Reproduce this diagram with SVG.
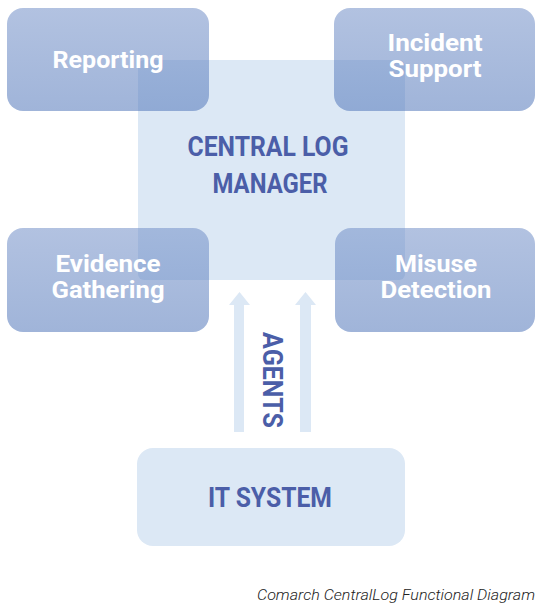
<svg xmlns="http://www.w3.org/2000/svg" width="545" height="607" viewBox="0 0 545 607">
<defs>
<linearGradient id="g" x1="0" y1="0" x2="0" y2="1">
<stop offset="0" stop-color="#7390c8"/>
<stop offset="1" stop-color="#5277ba"/>
</linearGradient>
<style>
.light{fill:#dce8f5}
.box{fill:url(#g);opacity:0.55}
.wt{fill:#ffffff;font-family:Roboto,"Liberation Sans",sans-serif;font-weight:bold;font-size:23px;text-anchor:middle}
.bt{fill:#4b5ea8;font-family:Roboto,"Liberation Sans",sans-serif;font-weight:bold;font-size:28px;text-anchor:middle}
.arrow{fill:#dce8f5}
.cap{fill:#222;font-family:Roboto,"Liberation Sans",sans-serif;font-style:italic;font-weight:300;font-size:14px;text-anchor:end}
</style>
</defs>
<rect width="545" height="607" fill="#ffffff"/>
<g id="central">
<rect class="light" x="138" y="60" width="267" height="220" rx="6"/>
<text class="bt" x="268" y="156" textLength="161" lengthAdjust="spacingAndGlyphs">CENTRAL LOG</text>
<text class="bt" x="270" y="193" textLength="115" lengthAdjust="spacingAndGlyphs">MANAGER</text>
</g>
<g id="reporting">
<rect class="box" x="7" y="8" width="202" height="103" rx="16"/>
<text class="wt" x="108" y="68" font-size="25" textLength="111" lengthAdjust="spacingAndGlyphs">Reporting</text>
</g>
<g id="incident">
<rect class="box" x="334" y="8" width="201" height="103" rx="16"/>
<text class="wt" x="435" y="51" textLength="95" lengthAdjust="spacingAndGlyphs">Incident</text>
<text class="wt" x="435" y="77" textLength="93" lengthAdjust="spacingAndGlyphs">Support</text>
</g>
<g id="evidence">
<rect class="box" x="7" y="228" width="202" height="104" rx="16"/>
<text class="wt" x="108" y="272" textLength="105" lengthAdjust="spacingAndGlyphs">Evidence</text>
<text class="wt" x="108" y="298" textLength="113" lengthAdjust="spacingAndGlyphs">Gathering</text>
</g>
<g id="misuse">
<rect class="box" x="335" y="228" width="200" height="104" rx="16"/>
<text class="wt" x="436" y="272" textLength="82" lengthAdjust="spacingAndGlyphs">Misuse</text>
<text class="wt" x="436" y="298" textLength="111" lengthAdjust="spacingAndGlyphs">Detection</text>
</g>
<g id="connectors">
<polygon class="arrow" points="234,432 244,432 244,305 250,305 239.5,292 229,305 234,305"/>
<polygon class="arrow" points="300,432 311,432 311,305 316,305 305.5,292 295,305 300,305"/>
<text class="bt" transform="translate(263,380) rotate(90)" x="0" y="0" textLength="96" lengthAdjust="spacingAndGlyphs" font-size="26">AGENTS</text>
</g>
<g id="itsystem">
<rect class="light" x="137" y="448" width="268" height="98" rx="16"/>
<text class="bt" x="270" y="507" textLength="124" lengthAdjust="spacingAndGlyphs">IT SYSTEM</text>
</g>
<text class="cap" x="535" y="600" textLength="278" lengthAdjust="spacingAndGlyphs">Comarch CentralLog Functional Diagram</text>
</svg>
